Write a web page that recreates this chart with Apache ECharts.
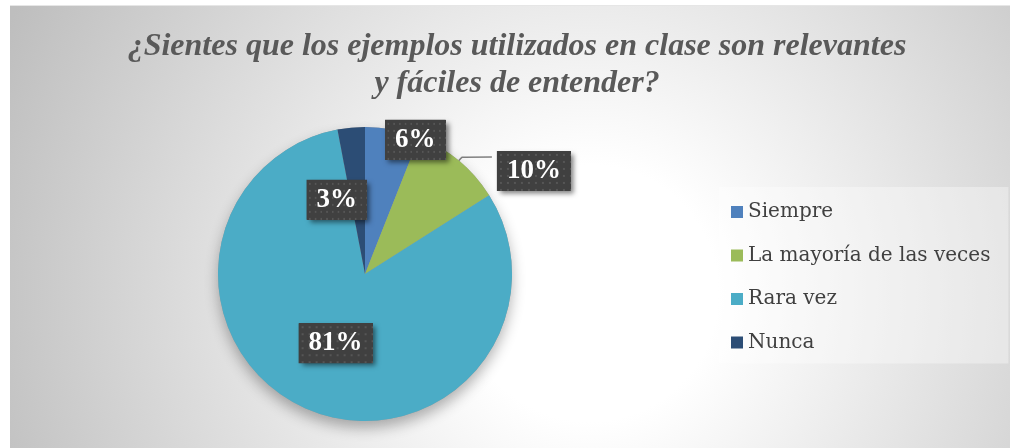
<!DOCTYPE html>
<html><head><meta charset="utf-8">
<script src="https://cdn.jsdelivr.net/npm/echarts@6/dist/echarts.min.js"></script>
<style>
html,body{margin:0;padding:0;background:#fff;width:1010px;height:448px;overflow:hidden}
#c{position:absolute;left:10px;top:5px;width:1000px;height:443px;border-top:1px solid #e6e6e6;box-sizing:border-box}
</style>
</head><body><div id="c"></div>
<script>
// ---- data ----
const titleLines = ['¿Sientes que los ejemplos utilizados en clase son relevantes', 'y fáciles de entender?'];
const categories = ['Siempre', 'La mayoría de las veces', 'Rara vez', 'Nunca'];
const values = [6, 10, 81, 3];

// ---- styling / layout (kept apart from data) ----
const colors = ['#4F81BD', '#9BBB59', '#4BACC6', '#2C4D75'];
const labelPositions = ['inside', 'outside', 'inside', 'inside'];
const labelShift = [[36, -59], [0, 14], [1, -1], [-21, 2]];
const CENTER = [355, 268], RADIUS = 147;

// dotted texture for the label boxes
const tex = document.createElement('canvas');
tex.width = 74; tex.height = 40;
(function () {
  const g = tex.getContext('2d');
  g.fillStyle = '#404040'; g.fillRect(0, 0, tex.width, tex.height);
  g.fillStyle = '#565656';
  for (let y = 3; y < tex.height; y += 7) for (let x = 3; x < tex.width; x += 7) g.fillRect(x, y, 2, 2);
})();

const chart = echarts.init(document.getElementById('c'), null, {renderer: 'canvas'});

function labelStyle(bg, withShadow) {
  const s = {
    show: true,
    formatter: p => p.value + '%',
    color: '#ffffff',
    fontFamily: 'Liberation Serif',
    fontWeight: 'bold',
    fontSize: 27,
    lineHeight: 30,
    backgroundColor: bg,
    padding: [5, 10]
  };
  if (withShadow) Object.assign(s, {shadowBlur: 5, shadowOffsetX: 3, shadowOffsetY: 3, shadowColor: 'rgba(0,0,0,0.5)'});
  return s;
}
const layoutFn = p => ({dx: labelShift[p.dataIndex][0], dy: labelShift[p.dataIndex][1]});

chart.setOption({
  animation: false,
  backgroundColor: {
    type: 'radial', x: 0.58, y: 0.65, r: 1.45,
    colorStops: [
      {offset: 0, color: '#ffffff'},
      {offset: 0.2, color: '#ffffff'},
      {offset: 1, color: '#bebebe'}
    ]
  },
  graphic: [{
    type: 'text',
    x: 507,
    y: 22,
    silent: true,
    style: {
      text: titleLines.join('\n'),
      align: 'center',
      verticalAlign: 'top',
      fontFamily: 'Liberation Serif',
      fontStyle: 'italic',
      fontWeight: 'bold',
      fontSize: 32,
      lineHeight: 37,
      fill: '#595959'
    }
  }],
  legend: {
    orient: 'vertical',
    left: 709,
    top: 181,
    padding: [13, 18, 9, 12],
    backgroundColor: 'rgba(255,255,255,0.35)',
    itemWidth: 12,
    itemHeight: 12,
    itemGap: 19.5,
    icon: 'rect',
    data: categories,
    selectedMode: false,
    textStyle: {fontFamily: 'DejaVu Serif', fontSize: 20, color: '#404040', lineHeight: 24}
  },
  series: [
    {
      // main pie: slices, leader line, shadowed label boxes
      type: 'pie',
      z: 3,
      center: CENTER,
      radius: RADIUS,
      startAngle: 90,
      clockwise: true,
      avoidLabelOverlap: false,
      emphasis: {disabled: true},
      label: labelStyle('#404040', true),
      labelLine: {show: true, length: 5, length2: 30, smooth: 0.2, lineStyle: {color: '#7f7f7f', width: 1.5}},
      labelLayout: layoutFn,
      data: categories.map((n, i) => ({
        name: n,
        value: values[i],
        itemStyle: {color: colors[i]},
        label: {position: labelPositions[i]},
        labelLine: {show: labelPositions[i] === 'outside'}
      }))
    },
    {
      // soft drop shadow under the pie
      type: 'pie',
      z: 1,
      silent: true,
      center: CENTER,
      radius: RADIUS,
      startAngle: 90,
      label: {show: false},
      labelLine: {show: false},
      itemStyle: {color: '#9a9a9a', shadowBlur: 14, shadowOffsetY: 7, shadowColor: 'rgba(0,0,0,0.3)'},
      data: categories.map((n, i) => ({name: n, value: values[i]}))
    },
    {
      // dotted texture overlay on the label boxes
      type: 'pie',
      z: 4,
      silent: true,
      center: CENTER,
      radius: RADIUS,
      startAngle: 90,
      clockwise: true,
      avoidLabelOverlap: false,
      emphasis: {disabled: true},
      itemStyle: {color: 'rgba(0,0,0,0)'},
      label: labelStyle({image: tex}, false),
      labelLine: {show: true, length: 5, length2: 30, smooth: 0.2, lineStyle: {color: 'rgba(0,0,0,0)', width: 0}},
      labelLayout: layoutFn,
      data: categories.map((n, i) => ({
        name: n,
        value: values[i],
        label: {position: labelPositions[i]},
        labelLine: {show: labelPositions[i] === 'outside'}
      }))
    }
  ]
});
</script>
</body></html>
